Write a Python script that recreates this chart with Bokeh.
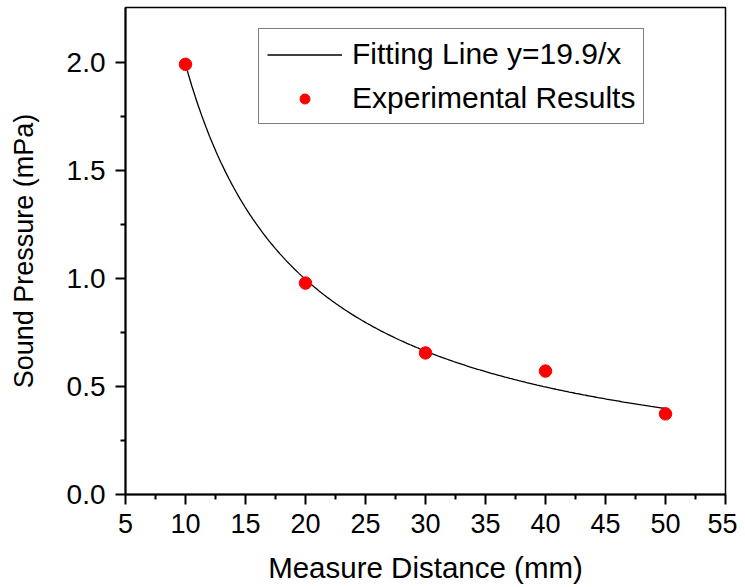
import numpy as np
from bokeh.plotting import figure
from bokeh.models import Range1d, Legend, LegendItem, FixedTicker, CustomJSTickFormatter
from bokeh.embed import file_html
from bokeh.resources import INLINE

# Data
distance = [10, 20, 30, 40, 50]
pressure = [1.99, 0.978, 0.655, 0.571, 0.373]
fit_coef = 19.9  # fitting line y = 19.9 / x (from legend)
fit_x = np.linspace(10, 50, 300)
fit_y = fit_coef / fit_x

x_ticks = [5, 10, 15, 20, 25, 30, 35, 40, 45, 50, 55]
y_ticks = [0.0, 0.5, 1.0, 1.5, 2.0]

FONT = "Liberation Sans"

p = figure(width=737, height=586, output_backend="svg", toolbar_location=None,
           x_range=Range1d(5, 55), y_range=Range1d(0, 2.253),
           min_border_left=125, min_border_right=12, min_border_top=7, min_border_bottom=92)
p.xgrid.visible = False
p.ygrid.visible = False
p.outline_line_color = "black"
p.outline_line_width = 1.5
p.background_fill_color = "white"
p.border_fill_color = "white"

fit_r = p.line(fit_x, fit_y, line_color="black", line_width=1.3)
pts_r = p.scatter(distance, pressure, size=12.5, fill_color="red", line_color="red")

for ax, ticks in ((p.xaxis[0], x_ticks), (p.yaxis[0], y_ticks)):
    ax.ticker = FixedTicker(ticks=ticks,
                            minor_ticks=[t + (ticks[1] - ticks[0]) / 2 for t in ticks[:-1]])
    ax.axis_line_width = 2
    ax.major_tick_line_width = 2
    ax.minor_tick_line_width = 2
    ax.major_tick_out = 10
    ax.major_tick_in = 0
    ax.minor_tick_out = 5
    ax.minor_tick_in = 0
    ax.major_label_text_font = FONT
    ax.major_label_text_font_size = "27px"
    ax.major_label_text_color = "black"
    ax.axis_label_text_font = FONT
    ax.axis_label_text_font_style = "normal"
    ax.axis_label_text_color = "black"

p.xaxis[0].major_label_standoff = 9
p.yaxis[0].major_label_standoff = 10
p.yaxis[0].major_label_text_font_size = "28px"
p.xaxis[0].axis_label = "Measure Distance (mm)"
p.yaxis[0].axis_label = "Sound Pressure (mPa)"
p.xaxis[0].axis_label_text_font_size = "29.5px"
p.yaxis[0].axis_label_text_font_size = "27px"
p.xaxis[0].axis_label_standoff = 15
p.yaxis[0].axis_label_standoff = 25
p.yaxis[0].formatter = CustomJSTickFormatter(code="return tick.toFixed(1);")

legend = Legend(items=[LegendItem(label="Fitting Line y=19.9/x", renderers=[fit_r]),
                       LegendItem(label="Experimental Results", renderers=[pts_r])],
                location=(133, 370))
legend.label_text_font = FONT
legend.label_text_font_size = "30px"
legend.label_text_line_height = 0.9
legend.label_text_color = "black"
legend.border_line_color = "black"
legend.border_line_width = 1
legend.background_fill_alpha = 1
legend.padding = 8
legend.spacing = 10
legend.label_height = 25
legend.glyph_height = 25
legend.glyph_width = 75
legend.label_standoff = 10
p.add_layout(legend, "center")

open("out.html", "w").write(file_html(p, INLINE))
